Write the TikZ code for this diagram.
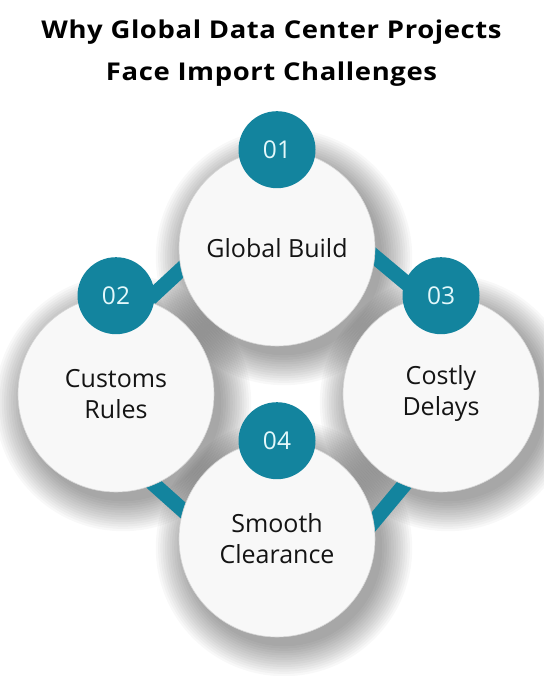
\documentclass[tikz,border=0pt]{standalone}
\usepackage{fontspec}
\setmainfont{Open Sans}
\newfontfamily\titlefont[FakeStretch=1.12,LetterSpace=2.5]{Open Sans}

\definecolor{tealband}{HTML}{13849E}
\definecolor{badgetxt}{HTML}{E3F8FB}
\definecolor{discfill}{HTML}{F8F8F8}

\begin{document}
\begin{tikzpicture}[x=1pt,y=-1pt,
  disc/.style={circle, minimum size=196pt, inner sep=0pt, fill=discfill, draw=black!16, line width=0.6pt,
    align=center, font=\fontsize{25}{31}\selectfont, text=black!92},
  badge/.style={circle, minimum size=77pt, inner sep=0pt, fill=tealband, text=badgetxt,
    font=\fontsize{24.5}{26}\selectfont},
  band/.style={draw=tealband, line width=15pt},
  shadowring/.style={fill=black, opacity=0.028},
  titletext/.style={anchor=base, font=\titlefont\fontsize{24.5}{28}\selectfont\bfseries, text=black}]

\useasboundingbox[fill=white] (0,0) rectangle (543,676);

% title
\node[titletext] (t1) at (271.5,39) {Why Global Data Center Projects};
\node[titletext] (t2) at (271.5,81) {Face Import Challenges};

% soft shadows (stacked translucent rings)
\foreach \cx/\cy in {277/248, 116/394, 441/394, 277/539}{
  \foreach \k in {1,...,14}{
    \fill[shadowring] (\cx+7,\cy+9) circle ({96+2.3*\k});
  }
}

% connector end points (hidden under discs and badges)
\coordinate (ula) at (200,252);
\coordinate (ulb) at (132,315);
\coordinate (ura) at (350,236);
\coordinate (urb) at (430,303);
\coordinate (lla) at (130,463);
\coordinate (llb) at (205,530);
\coordinate (lra) at (420,466);
\coordinate (lrb) at (350,550);

\draw[band] (ula) -- (ulb);
\draw[band] (ura) -- (urb);
\draw[band] (lla) -- (llb);
\draw[band] (lra) -- (lrb);

% discs
\node[disc] (d1) at (277,248) {Global Build};
\node[disc] (d2) at (116,394) {Customs\\Rules};
\node[disc] (d3) at (441,394) {Costly\\Delays};
\node[disc] (d4) at (277,539) {Smooth\\Clearance};

% badges
\node[badge] (b1) at (d1.north) {01};
\node[badge] (b2) at (d2.north) {02};
\node[badge] (b3) at (d3.north) {03};
\node[badge] (b4) at (d4.north) {04};
\end{tikzpicture}
\end{document}
